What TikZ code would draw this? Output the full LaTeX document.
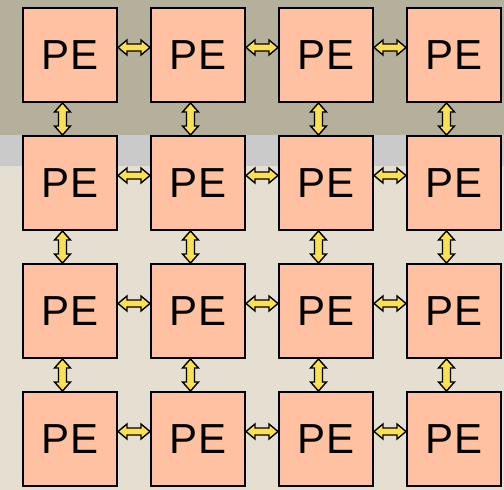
\documentclass[tikz,border=0pt]{standalone}
\usepackage{fontspec}
\setmainfont{Liberation Sans}
\usetikzlibrary{calc}
\definecolor{bandtop}{HTML}{B4B09C}
\definecolor{bandgray}{HTML}{CACACA}
\definecolor{bandbeige}{HTML}{E4DFD0}
\definecolor{pefill}{HTML}{FFC1A1}
\definecolor{arrowfill}{HTML}{FCE050}
\tikzset{
  pebox/.style={draw=black, line width=2pt, fill=pefill, minimum width=94pt, minimum height=94pt, inner sep=0pt, font=\fontsize{42}{50}\selectfont},
  conn/.style={draw=black, line width=1.4pt, fill=arrowfill, line join=miter},
}
\newcommand\hconn[2]{%
  \draw[conn] let \p1=([yshift=7.5pt]#1.east), \p2=([yshift=7.5pt]#2.west) in
    (\x1,\y1) -- (\x1+9pt,\y1+7.5pt) -- (\x1+9pt,\y1+3.5pt) -- (\x2-9pt,\y2+3.5pt) -- (\x2-9pt,\y2+7.5pt)
    -- (\x2,\y2) -- (\x2-9pt,\y2-7.5pt) -- (\x2-9pt,\y2-3.5pt) -- (\x1+9pt,\y1-3.5pt) -- (\x1+9pt,\y1-7.5pt) -- cycle;}
\newcommand\vconn[2]{%
  \draw[conn] let \p1=([xshift=-7.5pt]#1.south), \p2=([xshift=-7.5pt]#2.north) in
    (\x1,\y1) -- (\x1+8pt,\y1-9pt) -- (\x1+4pt,\y1-9pt) -- (\x2+4pt,\y2+9pt) -- (\x2+8pt,\y2+9pt)
    -- (\x2,\y2) -- (\x2-8pt,\y2+9pt) -- (\x2-4pt,\y2+9pt) -- (\x1-4pt,\y1-9pt) -- (\x1-8pt,\y1-9pt) -- cycle;}
\begin{document}
\begin{tikzpicture}[x=1pt,y=1pt]
\useasboundingbox (0,0) rectangle (504,490);
\fill[bandbeige] (0,0) rectangle (504,324);
\fill[bandgray] (0,324) rectangle (504,355);
\fill[bandtop] (0,355) rectangle (504,490);
\foreach \r/\y in {1/435,2/307,3/179,4/51}{
  \foreach \c/\x in {1/70,2/198,3/326,4/454}{
    \node[pebox] (p\r\c) at (\x,\y) {\raisebox{-1pt}{PE}};
  }
}
\foreach \r in {1,2,3,4}{
  \hconn{p\r1}{p\r2}
  \hconn{p\r2}{p\r3}
  \hconn{p\r3}{p\r4}
}
\foreach \c in {1,2,3,4}{
  \vconn{p1\c}{p2\c}
  \vconn{p2\c}{p3\c}
  \vconn{p3\c}{p4\c}
}
\end{tikzpicture}
\end{document}
